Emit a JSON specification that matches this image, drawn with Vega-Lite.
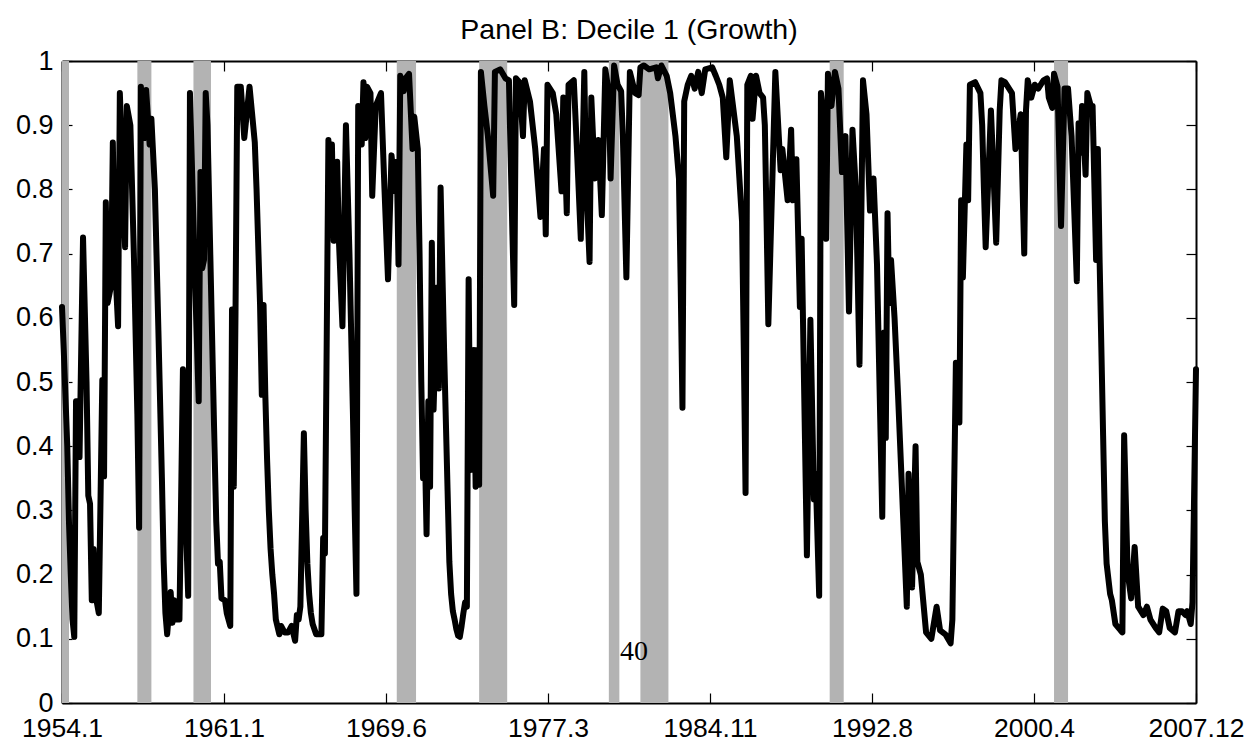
{
  "$schema": "https://vega.github.io/schema/vega-lite/v6.json",
  "width": 1134,
  "height": 642,
  "autosize": {"type": "none"},
  "padding": {"left": 62, "top": 61, "right": 56, "bottom": 39},
  "background": "white",
  "config": {
    "view": {"stroke": null},
    "axis": {
      "grid": false,
      "domainColor": "black",
      "domainWidth": 2,
      "tickColor": "black",
      "tickWidth": 1.2,
      "tickSize": -10,
      "labelFont": "Liberation Sans",
      "labelFontSize": 27,
      "labelColor": "black",
      "title": null,
      "zindex": 1,
      "labelOverlap": false,
      "labelFlush": false,
      "labelBound": false
    }
  },
  "title": {
    "text": "Panel B: Decile 1 (Growth)",
    "font": "Liberation Sans",
    "fontSize": 28.5,
    "fontWeight": "normal",
    "color": "black",
    "anchor": "middle",
    "baseline": "alphabetic",
    "offset": -20
  },
  "datasets": {
    "recessions": [
      {"s": 0, "e": 4}, {"s": 43, "e": 51}, {"s": 75, "e": 85}, {"s": 191, "e": 202},
      {"s": 238, "e": 254}, {"s": 312, "e": 318}, {"s": 330, "e": 346}, {"s": 438, "e": 446},
      {"s": 566, "e": 574}
    ],
    "series": [
      {"m":0,"v":0.617},{"m":1,"v":0.55},{"m":3,"v":0.40},{"m":4,"v":0.28},{"m":5,"v":0.20},{"m":6,"v":0.13},{"m":7,"v":0.103},{"m":8,"v":0.47},{"m":9,"v":0.47},{"m":10,"v":0.383},
      {"m":12,"v":0.725},{"m":14,"v":0.50},{"m":15,"v":0.323},{"m":16,"v":0.31},{"m":17,"v":0.16},{"m":18,"v":0.24},{"m":19,"v":0.17},{"m":21,"v":0.14},{"m":23,"v":0.503},{"m":24,"v":0.353},
      {"m":25,"v":0.78},{"m":26,"v":0.623},{"m":28,"v":0.65},{"m":29,"v":0.873},{"m":30,"v":0.70},{"m":32,"v":0.587},{"m":33,"v":0.95},{"m":36,"v":0.71},{"m":37,"v":0.93},{"m":39,"v":0.90},
      {"m":41,"v":0.70},{"m":43,"v":0.45},{"m":44,"v":0.273},{"m":45,"v":0.96},{"m":47,"v":0.88},{"m":48,"v":0.955},{"m":50,"v":0.87},{"m":51,"v":0.91},{"m":53,"v":0.80},{"m":55,"v":0.58},
      {"m":57,"v":0.35},{"m":58,"v":0.22},{"m":59,"v":0.14},{"m":60,"v":0.107},{"m":62,"v":0.173},{"m":63,"v":0.125},{"m":64,"v":0.16},{"m":65,"v":0.13},{"m":67,"v":0.13},{"m":69,"v":0.52},
      {"m":71,"v":0.25},{"m":72,"v":0.167},{"m":73,"v":0.95},{"m":74,"v":0.85},{"m":76,"v":0.65},{"m":78,"v":0.47},{"m":79,"v":0.827},{"m":80,"v":0.677},{"m":81,"v":0.69},{"m":82,"v":0.95},
      {"m":83,"v":0.90},{"m":85,"v":0.65},{"m":87,"v":0.40},{"m":88,"v":0.283},{"m":89,"v":0.217},{"m":90,"v":0.22},{"m":91,"v":0.163},{"m":93,"v":0.16},{"m":94,"v":0.14},{"m":96,"v":0.12},
      {"m":97,"v":0.613},{"m":98,"v":0.337},{"m":99,"v":0.61},{"m":100,"v":0.96},{"m":102,"v":0.96},{"m":104,"v":0.88},{"m":107,"v":0.96},{"m":110,"v":0.873},{"m":111,"v":0.80},{"m":113,"v":0.62},
      {"m":114,"v":0.48},{"m":115,"v":0.62},{"m":116,"v":0.48},{"m":117,"v":0.38},{"m":118,"v":0.30},{"m":119,"v":0.24},{"m":120,"v":0.20},{"m":121,"v":0.17},{"m":122,"v":0.13},{"m":124,"v":0.107},
      {"m":125,"v":0.12},{"m":127,"v":0.11},{"m":129,"v":0.11},{"m":131,"v":0.12},{"m":133,"v":0.097},{"m":134,"v":0.137},{"m":135,"v":0.13},{"m":136,"v":0.15},{"m":138,"v":0.42},{"m":139,"v":0.30},
      {"m":140,"v":0.217},{"m":141,"v":0.17},{"m":142,"v":0.14},{"m":143,"v":0.123},{"m":145,"v":0.107},{"m":148,"v":0.107},{"m":149,"v":0.257},{"m":150,"v":0.233},{"m":152,"v":0.877},{"m":153,"v":0.73},
      {"m":154,"v":0.87},{"m":155,"v":0.72},{"m":157,"v":0.843},{"m":158,"v":0.72},{"m":160,"v":0.587},{"m":162,"v":0.90},{"m":164,"v":0.70},{"m":166,"v":0.45},{"m":167,"v":0.30},{"m":168,"v":0.17},
      {"m":169,"v":0.93},{"m":171,"v":0.87},{"m":172,"v":0.967},{"m":173,"v":0.88},{"m":174,"v":0.96},{"m":176,"v":0.95},{"m":177,"v":0.79},{"m":179,"v":0.93},{"m":182,"v":0.95},{"m":184,"v":0.80},
      {"m":186,"v":0.66},{"m":188,"v":0.853},{"m":190,"v":0.797},{"m":191,"v":0.843},{"m":192,"v":0.683},{"m":193,"v":0.977},{"m":195,"v":0.953},{"m":196,"v":0.973},{"m":198,"v":0.98},{"m":200,"v":0.863},
      {"m":201,"v":0.913},{"m":203,"v":0.863},{"m":204,"v":0.70},{"m":205,"v":0.50},{"m":206,"v":0.35},{"m":207,"v":0.40},{"m":208,"v":0.263},{"m":209,"v":0.47},{"m":210,"v":0.337},{"m":211,"v":0.717},
      {"m":212,"v":0.457},{"m":214,"v":0.647},{"m":215,"v":0.49},{"m":216,"v":0.803},{"m":218,"v":0.55},{"m":220,"v":0.33},{"m":221,"v":0.22},{"m":222,"v":0.17},{"m":223,"v":0.143},{"m":224,"v":0.13},
      {"m":225,"v":0.115},{"m":226,"v":0.105},{"m":227,"v":0.103},{"m":228,"v":0.12},{"m":229,"v":0.14},{"m":230,"v":0.157},{"m":231,"v":0.15},{"m":232,"v":0.66},{"m":233,"v":0.363},{"m":235,"v":0.55},
      {"m":236,"v":0.337},{"m":237,"v":0.55},{"m":238,"v":0.34},{"m":239,"v":0.983},{"m":241,"v":0.93},{"m":243,"v":0.883},{"m":246,"v":0.79},{"m":247,"v":0.983},{"m":250,"v":0.987},{"m":253,"v":0.973},
      {"m":255,"v":0.97},{"m":256,"v":0.85},{"m":257,"v":0.73},{"m":258,"v":0.62},{"m":259,"v":0.973},{"m":261,"v":0.967},{"m":263,"v":0.883},{"m":264,"v":0.97},{"m":267,"v":0.937},{"m":270,"v":0.863},
      {"m":273,"v":0.757},{"m":275,"v":0.863},{"m":276,"v":0.73},{"m":277,"v":0.963},{"m":280,"v":0.95},{"m":282,"v":0.917},{"m":285,"v":0.797},{"m":286,"v":0.943},{"m":288,"v":0.763},{"m":289,"v":0.963},
      {"m":292,"v":0.97},{"m":294,"v":0.85},{"m":296,"v":0.723},{"m":298,"v":0.983},{"m":299,"v":0.817},{"m":301,"v":0.687},{"m":302,"v":0.943},{"m":304,"v":0.817},{"m":306,"v":0.877},{"m":308,"v":0.76},
      {"m":310,"v":0.987},{"m":312,"v":0.95},{"m":313,"v":0.817},{"m":315,"v":0.993},{"m":317,"v":0.963},{"m":319,"v":0.953},{"m":320,"v":0.883},{"m":322,"v":0.663},{"m":324,"v":0.983},{"m":327,"v":0.95},
      {"m":329,"v":0.947},{"m":330,"v":0.99},{"m":332,"v":0.993},{"m":335,"v":0.987},{"m":339,"v":0.99},{"m":340,"v":0.973},{"m":342,"v":0.993},{"m":345,"v":0.977},{"m":347,"v":0.95},{"m":350,"v":0.883},
      {"m":352,"v":0.817},{"m":353,"v":0.65},{"m":354,"v":0.46},{"m":355,"v":0.937},{"m":357,"v":0.963},{"m":359,"v":0.977},{"m":361,"v":0.957},{"m":363,"v":0.983},{"m":365,"v":0.95},{"m":367,"v":0.987},
      {"m":371,"v":0.99},{"m":373,"v":0.977},{"m":375,"v":0.963},{"m":377,"v":0.943},{"m":379,"v":0.85},{"m":381,"v":0.97},{"m":385,"v":0.883},{"m":388,"v":0.75},{"m":389,"v":0.55},{"m":390,"v":0.327},
      {"m":391,"v":0.963},{"m":393,"v":0.977},{"m":394,"v":0.91},{"m":396,"v":0.977},{"m":398,"v":0.95},{"m":400,"v":0.943},{"m":401,"v":0.90},{"m":402,"v":0.75},{"m":403,"v":0.59},{"m":407,"v":0.983},
      {"m":410,"v":0.83},{"m":411,"v":0.863},{"m":414,"v":0.783},{"m":416,"v":0.893},{"m":417,"v":0.783},{"m":419,"v":0.847},{"m":421,"v":0.617},{"m":422,"v":0.723},{"m":425,"v":0.23},{"m":427,"v":0.597},
      {"m":429,"v":0.317},{"m":430,"v":0.357},{"m":432,"v":0.167},{"m":433,"v":0.95},{"m":434,"v":0.923},{"m":436,"v":0.723},{"m":437,"v":0.98},{"m":439,"v":0.93},{"m":441,"v":0.983},{"m":443,"v":0.957},
      {"m":445,"v":0.827},{"m":447,"v":0.883},{"m":449,"v":0.61},{"m":451,"v":0.893},{"m":453,"v":0.797},{"m":455,"v":0.527},{"m":457,"v":0.97},{"m":459,"v":0.917},{"m":461,"v":0.767},{"m":463,"v":0.817},
      {"m":465,"v":0.683},{"m":468,"v":0.29},{"m":469,"v":0.577},{"m":470,"v":0.413},{"m":471,"v":0.763},{"m":472,"v":0.623},{"m":473,"v":0.69},{"m":475,"v":0.60},{"m":477,"v":0.48},{"m":479,"v":0.35},
      {"m":482,"v":0.15},{"m":483,"v":0.357},{"m":485,"v":0.18},{"m":487,"v":0.40},{"m":488,"v":0.22},{"m":490,"v":0.20},{"m":493,"v":0.11},{"m":496,"v":0.10},{"m":499,"v":0.15},{"m":501,"v":0.113},
      {"m":504,"v":0.107},{"m":507,"v":0.093},{"m":508,"v":0.13},{"m":510,"v":0.53},{"m":512,"v":0.437},{"m":513,"v":0.783},{"m":514,"v":0.663},{"m":516,"v":0.87},{"m":517,"v":0.783},{"m":518,"v":0.963},
      {"m":521,"v":0.967},{"m":524,"v":0.95},{"m":525,"v":0.90},{"m":526,"v":0.80},{"m":527,"v":0.71},{"m":530,"v":0.923},{"m":531,"v":0.857},{"m":533,"v":0.717},{"m":535,"v":0.923},{"m":536,"v":0.97},
      {"m":538,"v":0.967},{"m":542,"v":0.95},{"m":544,"v":0.863},{"m":547,"v":0.917},{"m":549,"v":0.70},{"m":550,"v":0.923},{"m":551,"v":0.97},{"m":553,"v":0.943},{"m":555,"v":0.963},{"m":557,"v":0.957},
      {"m":560,"v":0.97},{"m":562,"v":0.973},{"m":563,"v":0.943},{"m":565,"v":0.927},{"m":566,"v":0.98},{"m":568,"v":0.96},{"m":570,"v":0.743},{"m":572,"v":0.957},{"m":574,"v":0.957},{"m":576,"v":0.883},
      {"m":579,"v":0.657},{"m":580,"v":0.903},{"m":581,"v":0.857},{"m":582,"v":0.93},{"m":584,"v":0.823},{"m":585,"v":0.95},{"m":587,"v":0.93},{"m":588,"v":0.93},{"m":590,"v":0.69},{"m":591,"v":0.863},
      {"m":592,"v":0.69},{"m":594,"v":0.417},{"m":595,"v":0.283},{"m":596,"v":0.217},{"m":598,"v":0.17},{"m":599,"v":0.16},{"m":601,"v":0.123},{"m":604,"v":0.113},{"m":605,"v":0.11},{"m":606,"v":0.417},
      {"m":608,"v":0.203},{"m":610,"v":0.163},{"m":612,"v":0.243},{"m":614,"v":0.15},{"m":617,"v":0.137},{"m":619,"v":0.15},{"m":621,"v":0.13},{"m":624,"v":0.117},{"m":626,"v":0.11},{"m":628,"v":0.147},
      {"m":630,"v":0.143},{"m":632,"v":0.117},{"m":635,"v":0.11},{"m":637,"v":0.143},{"m":639,"v":0.143},{"m":641,"v":0.137},{"m":642,"v":0.143},{"m":644,"v":0.123},{"m":645,"v":0.157},{"m":647,"v":0.52}
    ],
    "note": [{"m": 326.3, "v": 0.067, "label": "40"}]
  },
  "layer": [
    {
      "data": {"name": "recessions"},
      "mark": {"type": "rect", "color": "#b3b3b3"},
      "encoding": {
        "x": {
          "field": "s", "type": "quantitative",
          "scale": {"domain": [0, 647], "nice": false, "zero": false},
          "axis": {
            "orient": "bottom",
            "values": [0, 92.4286, 184.8571, 277.2857, 369.7143, 462.1429, 554.5714, 647],
            "labelExpr": "['1954.1','1961.1','1969.6','1977.3','1984.11','1992.8','2000.4','2007.12'][round(datum.value/92.4286)]",
            "labelFontSize": 26.5,
            "labelPadding": 43.5,
            "labelBaseline": "alphabetic"
          }
        },
        "x2": {"field": "e"}
      }
    },
    {
      "data": {"name": "series"},
      "mark": {"type": "line", "color": "black", "strokeWidth": 6, "strokeJoin": "round", "strokeCap": "round"},
      "encoding": {
        "x": {
          "field": "m", "type": "quantitative",
          "scale": {"domain": [0, 647], "nice": false, "zero": false},
          "axis": {
            "orient": "top",
            "values": [0, 92.4286, 184.8571, 277.2857, 369.7143, 462.1429, 554.5714, 647],
            "labels": false
          }
        },
        "y": {
          "field": "v", "type": "quantitative",
          "scale": {"domain": [0, 1], "nice": false, "zero": false},
          "axis": {
            "orient": "left",
            "values": [0, 0.1, 0.2, 0.3, 0.4, 0.5, 0.6, 0.7, 0.8, 0.9, 1],
            "format": ".1~f",
            "labelPadding": 19
          }
        }
      }
    },
    {
      "data": {"name": "note"},
      "mark": {"type": "text", "font": "Liberation Serif", "fontSize": 28, "color": "black", "align": "center", "baseline": "alphabetic"},
      "encoding": {
        "x": {"field": "m", "type": "quantitative", "axis": null},
        "y": {
          "field": "v", "type": "quantitative",
          "axis": {"orient": "right", "values": [0, 0.1, 0.2, 0.3, 0.4, 0.5, 0.6, 0.7, 0.8, 0.9, 1], "labels": false}
        },
        "text": {"field": "label"}
      }
    }
  ],
  "resolve": {"axis": {"x": "independent", "y": "independent"}}
}
